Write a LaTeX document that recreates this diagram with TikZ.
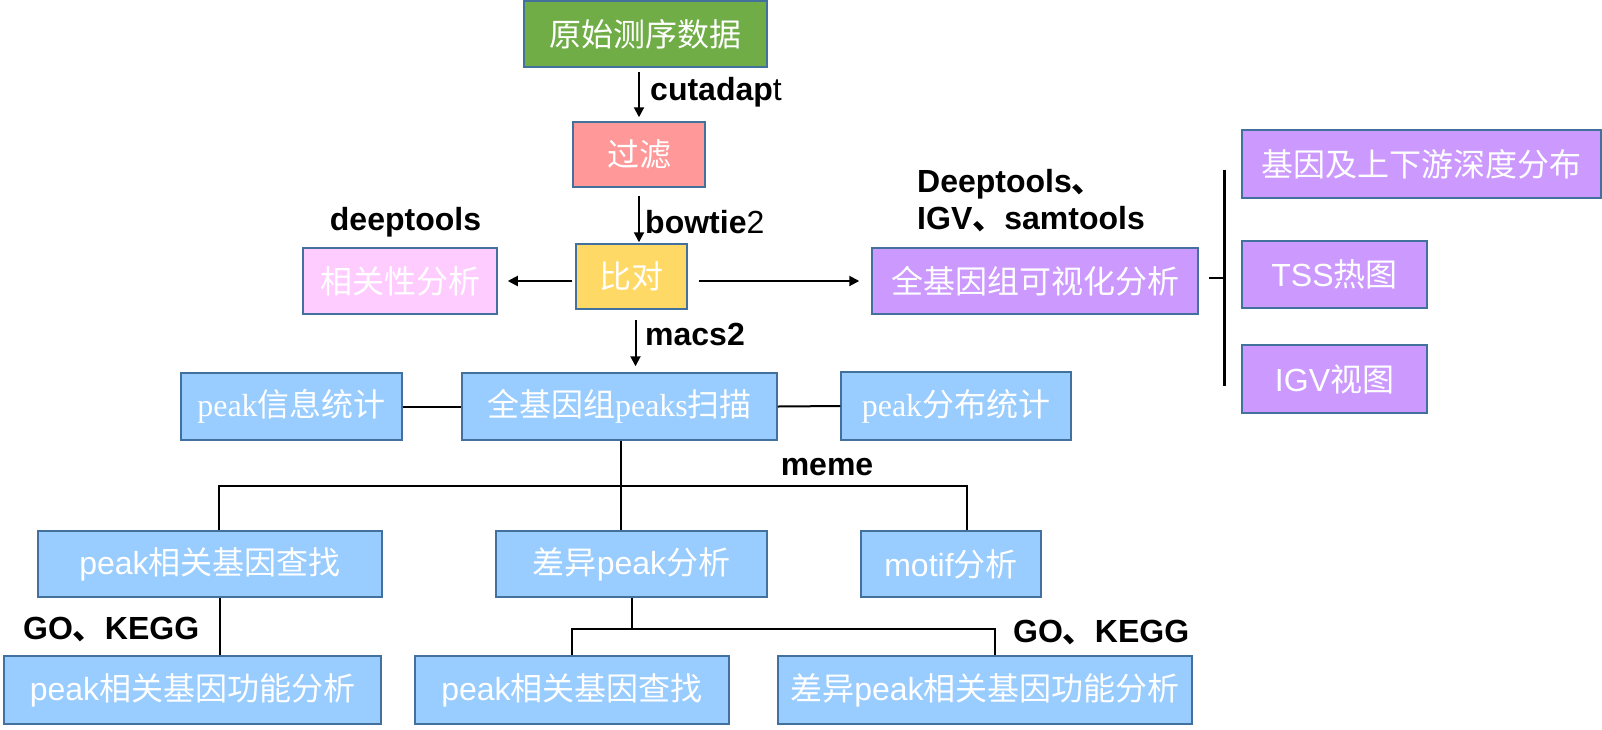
\documentclass[tikz,border=0pt]{standalone}
\usepackage{fontspec}
\setmainfont{Liberation Sans}
\newfontfamily\cjk{Noto Sans CJK SC}
\newfontfamily\serfont{Liberation Serif}
\newcommand{\zh}[1]{{\cjk #1}}
\usetikzlibrary{calc,arrows.meta}
\definecolor{cgreen}{HTML}{70AD47}
\definecolor{cpink}{HTML}{FF9999}
\definecolor{clpink}{HTML}{FFCCFF}
\definecolor{cyellow}{HTML}{FFD966}
\definecolor{cpurple}{HTML}{CC99FF}
\definecolor{cblue}{HTML}{99CCFF}
\definecolor{cborder}{HTML}{41719C}
\tikzset{
  box/.style={draw=cborder, line width=1.5pt, text=white, inner sep=0pt, font=\fontsize{32}{36}\selectfont},
  lab/.style={font=\fontsize{32}{37}\selectfont\bfseries, text=black, inner sep=0pt},
  arr/.style={-{Triangle[length=10pt,width=10pt]}, line width=2pt},
  ln/.style={line width=2pt},
}
\begin{document}
\begin{tikzpicture}[x=1pt,y=-1pt]
\useasboundingbox (0,0) rectangle (1602,729);
% top chain
\node[box, fill=cgreen, minimum width=243pt, minimum height=66pt] (raw) at (645.5,34) {\zh{原始测序数据}};
\node[box, fill=cpink, minimum width=132pt, minimum height=65pt] (filt) at (639,154.5) {\zh{过滤}};
\node[box, fill=cyellow, minimum width=111pt, minimum height=65pt] (align) at (631.5,276.5) {\zh{比对}};
\node[box, fill=clpink, minimum width=194pt, minimum height=66pt] (corr) at (400,281) {\zh{相关性分析}};
\node[box, fill=cpurple, minimum width=326pt, minimum height=66pt] (vis) at (1035,281) {\zh{全基因组可视化分析}};
\node[box, fill=cpurple, minimum width=359pt, minimum height=68pt] (gene) at (1421.5,164) {\zh{基因及上下游深度分布}};
\node[box, fill=cpurple, minimum width=185pt, minimum height=67pt] (tss) at (1334.5,274.5) {TSS\zh{热图}};
\node[box, fill=cpurple, minimum width=185pt, minimum height=68pt] (igv) at (1334.5,379) {IGV\zh{视图}};
% peaks row
\node[box, fill=cblue, minimum width=221pt, minimum height=67pt] (pstat) at (291.5,406.5) {{\serfont peak}\zh{信息统计}};
\node[box, fill=cblue, minimum width=315pt, minimum height=67pt] (scan) at (619.5,406.5) {\zh{全基因组}{\serfont peaks}\zh{扫描}};
\node[box, fill=cblue, minimum width=230pt, minimum height=68pt] (pdist) at (956,406) {{\serfont peak}\zh{分布统计}};
% second row
\node[box, fill=cblue, minimum width=344pt, minimum height=66pt] (find1) at (210,564) {peak\zh{相关基因查找}};
\node[box, fill=cblue, minimum width=271pt, minimum height=66pt] (diff) at (631.5,564) {\zh{差异}peak\zh{分析}};
\node[box, fill=cblue, minimum width=180pt, minimum height=66pt] (motif) at (951,564) {motif\zh{分析}};
% bottom row
\node[box, fill=cblue, minimum width=377pt, minimum height=68pt] (func1) at (192.5,690) {peak\zh{相关基因功能分析}};
\node[box, fill=cblue, minimum width=314pt, minimum height=68pt] (find2) at (572,690) {peak\zh{相关基因查找}};
\node[box, fill=cblue, minimum width=414pt, minimum height=68pt] (func2) at (985,690) {\zh{差异}peak\zh{相关基因功能分析}};
% arrows
\draw[arr, shorten <=4pt, shorten >=4pt] (raw.south -| filt.north) -- (filt.north);
\draw[arr, shorten <=8pt, shorten >=1pt] (filt.south) -- (filt.south |- align.north);
\draw[arr, shorten <=10pt, shorten >=6pt] ([xshift=4pt]align.south) -- ([xshift=4pt]align.south |- scan.north);
\draw[arr, shorten <=3pt, shorten >=10pt] (align.west |- corr.east) -- (corr.east);
\draw[arr, shorten <=11pt, shorten >=12pt] (align.east |- vis.west) -- (vis.west);
% side lines
\draw[ln] (pstat.east) -- (scan.west);
\draw[ln] (scan.east) -- (pdist.west);
% tree 1
\coordinate (j1) at ($(scan.south)+(1.5,45)$);
\draw[ln] ([xshift=1.5pt]scan.south) -- (j1);
\draw[ln] ([xshift=9pt]find1.north) |- (j1) -| ([xshift=16pt]motif.north);
\draw[ln] (j1) -- (j1 |- diff.north);
% tree 2
\coordinate (j2) at ($(diff.south)+(0,31)$);
\draw[ln] (diff.south) -- (j2);
\draw[ln] (find2.north) |- (j2) -| ([xshift=10pt]func2.north);
\draw[ln] ([xshift=10pt]find1.south) -- ([xshift=10pt]find1.south |- func1.north);
% bracket
\coordinate (bt) at (1224,170);
\coordinate (bb) at (1224,386);
\coordinate (bm) at (1224,278);
\coordinate (bs) at (1209,278);
\draw[line width=3pt] (bt) -- (bb);
\draw[ln] (bs) -- (bm);
% labels
\node[lab, anchor=west] (l1) at (650,92) {cutadap{\mdseries t}};
\node[lab, anchor=west] (l2) at (645,222) {bowtie{\mdseries 2}};
\node[lab] (l3) at (405.5,222) {deeptools};
\node[lab, anchor=west] (l4) at (645,334) {macs2};
\node[lab, anchor=west, align=left] (l5) at (917,201) {Deeptools\zh{、}\\IGV\zh{、}samtools};
\node[lab] (l6) at (827,467) {meme};
\node[lab, anchor=west] (l7) at (23,630) {GO\zh{、}KEGG};
\node[lab, anchor=west] (l8) at (1013,633) {GO\zh{、}KEGG};
\end{tikzpicture}
\end{document}
